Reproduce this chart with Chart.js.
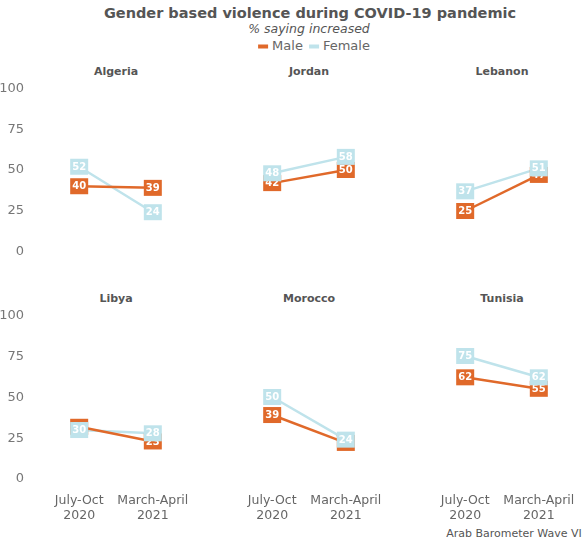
<!doctype html>
<html>
<head>
<meta charset="utf-8">
<title>Gender based violence during COVID-19 pandemic</title>
<script src="https://cdn.jsdelivr.net/npm/chart.js"></script>
<style>
body{margin:0;background:#fff;font-family:"DejaVu Sans",sans-serif;color:#555}
#wrap{position:relative;width:585px;height:538px;overflow:hidden}
.t{position:absolute;white-space:nowrap;transform:translate(-50%,-50%)}
canvas{position:absolute}
.dash{display:inline-block;width:10px;height:4px;vertical-align:middle;margin:0 4px 0 6px}
</style>
</head>
<body>
<div id="wrap">
  <div class="t" style="left:310px;top:13px;font-weight:bold;font-size:14.5px;color:#555">Gender based violence during COVID-19 pandemic</div>
  <div class="t" style="left:309px;top:28px;font-style:italic;font-size:12.5px;color:#555">% saying increased</div>
  <div class="t" style="left:311px;top:45px;font-size:13px;color:#666"><span class="dash" style="background:#E0692A"></span>Male<span class="dash" style="background:#BFE3EB"></span>Female</div>
  <div id="panels"></div>
  <div class="t" style="left:514px;top:533px;font-size:11px;color:#555">Arab Barometer Wave VI</div>
</div>
<script>
const countries = ["Algeria", "Jordan", "Lebanon", "Libya", "Morocco", "Tunisia"];
const waves = [["July-Oct", "2020"], ["March-April", "2021"]];
const male = [[40, 39], [42, 50], [25, 47], [32, 23], [39, 22], [62, 55]];
const female = [[52, 24], [48, 58], [37, 51], [30, 28], [50, 24], [75, 62]];
const yTicks = [0, 25, 50, 75, 100];

const ORANGE = "#E0692A";
const BLUE = "#BFE3EB";

// square labels with the value on each point
const boxLabels = {
  id: "boxLabels",
  afterDatasetsDraw(chart) {
    const ctx = chart.ctx;
    ctx.save();
    chart.data.datasets.forEach(function(ds, di) {
      const meta = chart.getDatasetMeta(di);
      meta.data.forEach(function(pt, j) {
        ctx.fillStyle = ds.borderColor;
        ctx.fillRect(pt.x - 9, pt.y - 8, 18, 16);
        ctx.fillStyle = "#fff";
        ctx.font = "bold 10px 'DejaVu Sans'";
        ctx.textAlign = "center";
        ctx.textBaseline = "middle";
        ctx.fillText(ds.data[j].y, pt.x, pt.y + 0.5);
      });
    });
    ctx.restore();
  }
};

const panels = document.getElementById("panels");

countries.forEach(function(name, i) {
  const col = i % 3, row = Math.floor(i / 3);
  const plotLeft = 35 + col * 193;
  const plotTop = row ? 315 : 88;
  const plotW = 162, plotH = 164;
  const yAxisW = col == 0 ? 35 : 0;
  const xAxisH = row == 1 ? 45 : 0;
  const padV = 10;

  const title = document.createElement("div");
  title.className = "t";
  title.style.cssText = "left:" + (plotLeft + plotW / 2) + "px;top:" + (plotTop - 17) + "px;font-weight:bold;font-size:11px;color:#555";
  title.textContent = name;
  panels.appendChild(title);

  const cv = document.createElement("canvas");
  const w = plotW + yAxisW, h = plotH + xAxisH + padV + (row == 1 ? 0 : padV);
  cv.width = w; cv.height = h;
  cv.style.left = (plotLeft - yAxisW) + "px";
  cv.style.top = (plotTop - padV) + "px";
  cv.style.width = w + "px"; cv.style.height = h + "px";
  panels.appendChild(cv);

  new Chart(cv.getContext("2d"), {
    type: "line",
    data: {
      datasets: [{
        label: "Male",
        data: male[i].map(function(v, j) { return {x: j, y: v}; }),
        borderColor: ORANGE,
        borderWidth: 2.5,
        pointRadius: 0,
        clip: false
      }, {
        label: "Female",
        data: female[i].map(function(v, j) { return {x: j, y: v}; }),
        borderColor: BLUE,
        borderWidth: 2.5,
        pointRadius: 0,
        clip: false
      }]
    },
    options: {
      responsive: false,
      animation: false,
      layout: {padding: {top: padV, bottom: row == 1 ? 0 : padV, left: 0, right: 0}},
      plugins: {legend: {display: false}, tooltip: {enabled: false}},
      scales: {
        x: {
          type: "linear",
          min: -0.6, max: 1.6,
          display: row == 1,
          grid: {display: false},
          border: {display: false},
          afterBuildTicks: function(s) { s.ticks = [{value: 0}, {value: 1}]; },
          afterFit: function(s) { s.height = xAxisH; },
          ticks: {
            autoSkip: false, maxRotation: 0, padding: 7,
            color: "#666",
            font: {family: "DejaVu Sans", size: 12.5, lineHeight: 1.15},
            callback: function(v) { return waves[v]; }
          }
        },
        y: {
          min: 0, max: 100,
          display: col == 0,
          grid: {display: false},
          border: {display: false},
          afterBuildTicks: function(s) { s.ticks = yTicks.map(function(v) { return {value: v}; }); },
          afterFit: function(s) { s.width = yAxisW; },
          ticks: {
            padding: 3,
            color: "#777",
            font: {family: "DejaVu Sans", size: 13}
          }
        }
      }
    },
    plugins: [boxLabels]
  });
});
</script>
</body>
</html>
